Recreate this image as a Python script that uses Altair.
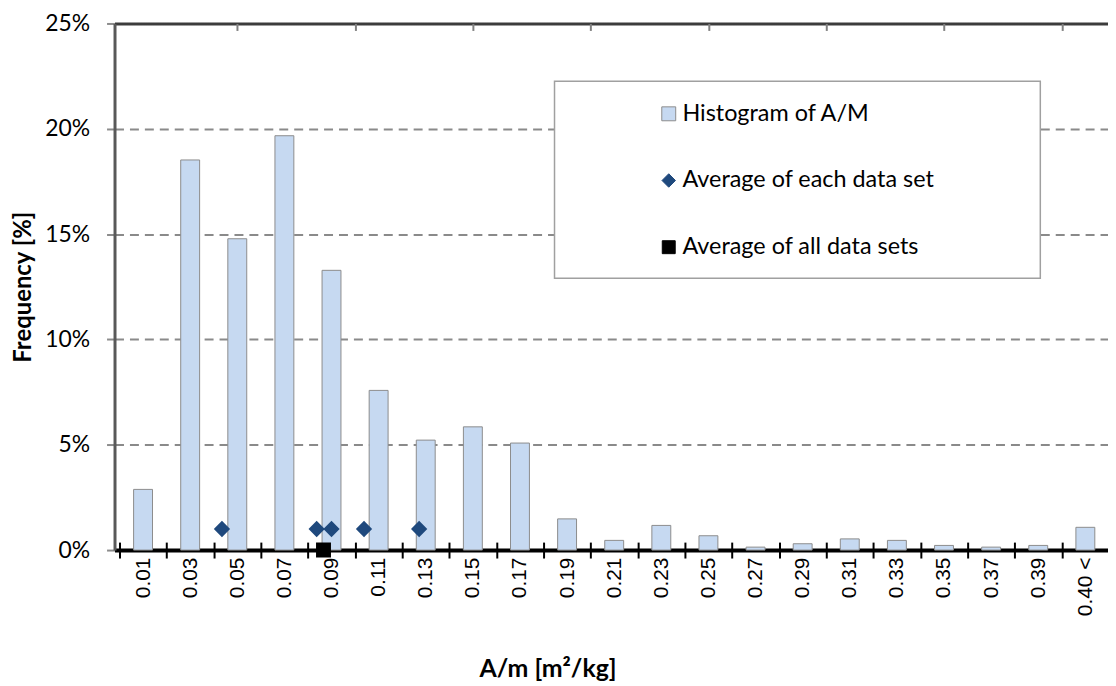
import json
import altair as alt
import pandas as pd

# ---- data ----
bin_labels = ["0.01", "0.03", "0.05", "0.07", "0.09", "0.11", "0.13", "0.15", "0.17", "0.19",
              "0.21", "0.23", "0.25", "0.27", "0.29", "0.31", "0.33", "0.35", "0.37", "0.39", "0.40 <"]
bin_centers = [0.01, 0.03, 0.05, 0.07, 0.09, 0.11, 0.13, 0.15, 0.17, 0.19,
               0.21, 0.23, 0.25, 0.27, 0.29, 0.31, 0.33, 0.35, 0.37, 0.39, 0.41]
frequency_pct = [2.88, 18.52, 14.78, 19.67, 13.28, 7.58, 5.22, 5.85, 5.08, 1.48,
                 0.46, 1.17, 0.68, 0.14, 0.30, 0.53, 0.46, 0.22, 0.14, 0.22, 1.08]
bin_edges = [0.00, 0.02, 0.04, 0.06, 0.08, 0.10, 0.12, 0.14, 0.16, 0.18, 0.20,
             0.22, 0.24, 0.26, 0.28, 0.30, 0.32, 0.34, 0.36, 0.38, 0.40]
secondary_ticks = [0.05, 0.10, 0.15, 0.20, 0.25, 0.30, 0.35, 0.40]

series_names = ["Histogram of A/M", "Average of each data set", "Average of all data sets"]
avg_each_am = [0.0435, 0.0837, 0.0900, 0.1038, 0.1272]
avg_each_freq = [1.0, 1.0, 1.0, 1.0, 1.0]
avg_all_am = [0.0866]
avg_all_freq = [0.0]

hist_df = pd.DataFrame({"am": bin_centers, "freq": frequency_pct, "label": bin_labels})
edge_df = pd.DataFrame({"edge": bin_edges})
pts_df = pd.DataFrame({
    "am": avg_each_am + avg_all_am,
    "freq": avg_each_freq + avg_all_freq,
    "series": [series_names[1]] * len(avg_each_am) + [series_names[2]] * len(avg_all_am),
})

W, H = 998, 529
xscale = alt.Scale(domain=[0, 0.4175], nice=False, zero=False)
yscale = alt.Scale(domain=[0, 25], nice=False)

CAL = "Lato"
label_lookup = json.dumps(bin_labels)

y_axis = alt.Axis(
    values=[0, 5, 10, 15, 20, 25],
    labelExpr="datum.value + '%'",
    grid=True,
    gridDash=alt.condition("datum.value == 25", alt.value([1, 0]), alt.value([9, 6])),
    gridColor=alt.condition("datum.value == 25", alt.value("#3c3c3c"), alt.value("#8a8a8a")),
    gridWidth=alt.condition("datum.value == 25", alt.value(3), alt.value(2)),
    domainColor="#595959", domainWidth=3,
    tickColor="#8c8c8c", tickSize=8, tickWidth=2,
    labelPadding=17, labelFont=CAL, labelFontSize=23, labelColor="black",
    title="Frequency [%]", titleFont=CAL, titleFontWeight="bold", titleFontSize=24,
    titleColor="black", titleAngle=270, titleX=-91, titleY=H / 2,
    titleAlign="center", titleBaseline="middle",
)

bars = alt.Chart(hist_df).mark_bar(
    orient="vertical", size=19, fill="#c6d9f1", stroke="#8c8c8c", strokeWidth=1
).encode(
    x=alt.X("am:Q", scale=xscale, axis=alt.Axis(
        orient="bottom", values=bin_centers, ticks=False, grid=False,
        domainColor="black", domainWidth=4,
        labelAngle=270, labelAlign="right", labelBaseline="middle", labelPadding=7,
        labelFont="Liberation Sans", labelFontSize=21, labelColor="black", labelLimit=300,
        labelExpr=f"{label_lookup}[round((datum.value - 0.01) / 0.02)]",
        labelOverlap=False, labelFlush=False,
        title="A/m [m²/kg]", titleFont=CAL, titleFontWeight="bold", titleFontSize=25,
        titleColor="black", titleX=435, titleY=119, titleAlign="center",
        titleBaseline="middle")),
    y=alt.Y("freq:Q", scale=yscale, axis=y_axis),
)

legend_box = alt.Chart(pd.DataFrame({"k": [0]})).mark_rect(
    fill="white", stroke="#a0a0a0", strokeWidth=1.5
).encode(x=alt.value(442), x2=alt.value(930), y=alt.value(58), y2=alt.value(256))

edge_ticks = alt.Chart(edge_df).mark_point(opacity=0).encode(
    x=alt.X("edge:Q", scale=xscale, axis=alt.Axis(
        orient="bottom", offset=-8, values=bin_edges, tickSize=16, tickColor="black",
        tickWidth=2, domain=False, labels=False, grid=False, title=None, zindex=1)),
    y=alt.value(0),
)

leg = dict(title=None, orient="none", legendX=545, legendY=79, padding=0,
           labelFont=CAL, labelFontSize=23.5, labelColor="black", labelOffset=2,
           labelLimit=500, rowPadding=42, symbolStrokeWidth=1, direction="vertical")

points = alt.Chart(pts_df).mark_point(filled=True, opacity=1).encode(
    x=alt.X("am:Q", scale=xscale, axis=alt.Axis(
        orient="top", offset=-7, values=secondary_ticks, tickSize=7, tickColor="#808080",
        tickWidth=2, domain=False, labels=False, grid=False, title=None, zindex=1)),
    y=alt.Y("freq:Q", scale=yscale, axis=y_axis),
    color=alt.Color("series:N", scale=alt.Scale(domain=series_names,
                    range=["#c6d9f1", "#1f497d", "#000000"]), legend=alt.Legend(**leg)),
    shape=alt.Shape("series:N", scale=alt.Scale(domain=series_names,
                    range=["square", "diamond", "square"]), legend=alt.Legend(**leg)),
    size=alt.Size("series:N", scale=alt.Scale(domain=series_names,
                  range=[196, 169, 289]), legend=alt.Legend(**leg)),
    stroke=alt.Stroke("series:N", scale=alt.Scale(domain=series_names,
                      range=["#8c8c8c", "#1f497d", "#000000"]), legend=alt.Legend(**leg)),
)

chart = alt.layer(bars, legend_box, edge_ticks, points).resolve_axis(
    x="independent"
).properties(
    width=W, height=H,
    autosize=alt.AutoSizeParams(type="none"),
    padding={"left": 107, "top": 14, "right": 0, "bottom": 130},
    background="white",
).configure_view(strokeWidth=0).configure(font=CAL)

chart.save("out.html", embed_options={"renderer": "svg", "actions": False})
